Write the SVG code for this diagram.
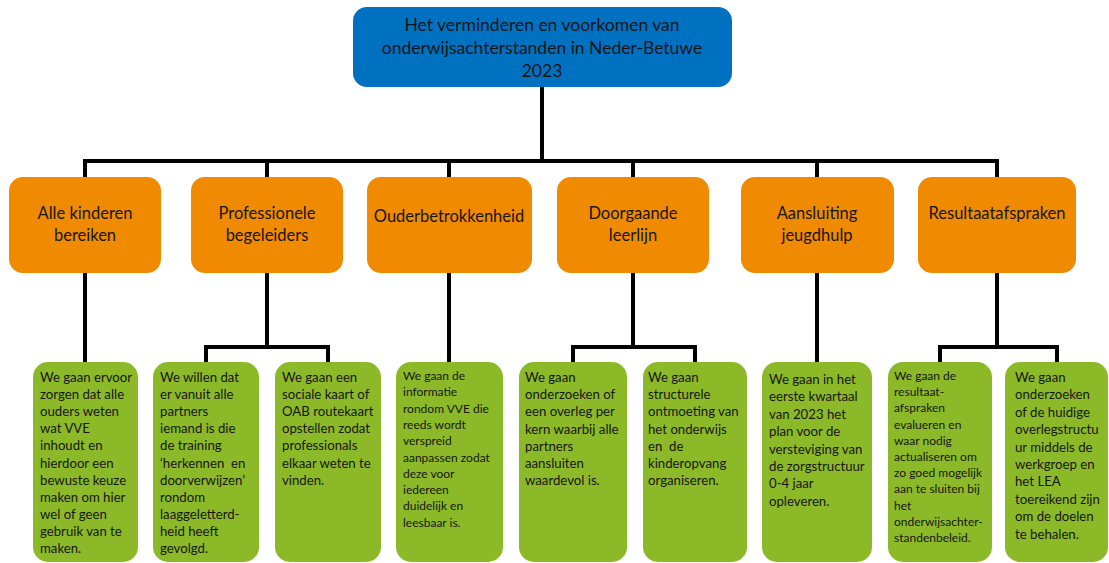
<svg xmlns="http://www.w3.org/2000/svg" width="1109" height="563" viewBox="0 0 1109 563">
<style>
text{font-family:Lato,"Liberation Sans",sans-serif;fill:#161616}
.root{fill:#0070C0}
.cat{fill:#F08A00}
.leaf{fill:#8CB927}
.t1{font-size:17.5px;text-anchor:middle}
.t2{font-size:16.5px;text-anchor:middle}
.t3{font-size:13.2px}
.t4{font-size:12px}
.conn{fill:none;stroke:#000;stroke-width:4;stroke-linecap:square;stroke-linejoin:miter}
</style>
<rect width="1109" height="563" fill="#fff"/>
<g id="connectors">
<path class="conn" d="M542 87V161M85 161H997M85 161V176M267 161V176M449 161V176M633 161V176M817 161V176M997 161V176"/>
<path class="conn" d="M85 274V361M449 274V361M817 274V361M267 274V347M206 347H328M206 347V361M328 347V361M633 274V347M573 347H695M573 347V361M695 347V361M997 274V347M940 347H1057M940 347V361M1057 347V361"/>
</g>
<g id="root">
<rect class="root" x="353" y="7" width="379" height="80" rx="14"/>
<text class="t1"><tspan x="542" y="31">Het verminderen en voorkomen van</tspan><tspan x="542" y="54">onderwijsachterstanden in Neder-Betuwe</tspan><tspan x="542" y="77">2023</tspan></text>
</g>
<g id="n1">
<rect class="cat" x="9" y="177" width="152" height="96" rx="14"/>
<text class="t2"><tspan x="85" y="219">Alle kinderen</tspan><tspan x="85" y="241">bereiken</tspan></text>
</g>
<g id="n2">
<rect class="cat" x="191" y="177" width="152" height="96" rx="14"/>
<text class="t2"><tspan x="267" y="219">Professionele</tspan><tspan x="267" y="241">begeleiders</tspan></text>
</g>
<g id="n3">
<rect class="cat" x="367" y="177" width="165" height="96" rx="14"/>
<text class="t2" x="449" y="222">Ouderbetrokkenheid</text>
</g>
<g id="n4">
<rect class="cat" x="557" y="177" width="152" height="96" rx="14"/>
<text class="t2"><tspan x="633" y="219">Doorgaande</tspan><tspan x="633" y="241">leerlijn</tspan></text>
</g>
<g id="n5">
<rect class="cat" x="741" y="177" width="153" height="96" rx="14"/>
<text class="t2"><tspan x="817" y="219">Aansluiting</tspan><tspan x="817" y="241">jeugdhulp</tspan></text>
</g>
<g id="n6">
<rect class="cat" x="918" y="177" width="158" height="96" rx="14"/>
<text class="t2" x="997" y="219">Resultaatafspraken</text>
</g>
<g id="g1">
<rect class="leaf" x="33" y="362" width="105" height="200" rx="15"/>
<text class="t3"><tspan x="40" y="382">We gaan ervoor</tspan><tspan x="40" dy="17.1">zorgen dat alle</tspan><tspan x="40" dy="17.1">ouders weten</tspan><tspan x="40" dy="17.1">wat VVE</tspan><tspan x="40" dy="17.1">inhoudt en</tspan><tspan x="40" dy="17.1">hierdoor een</tspan><tspan x="40" dy="17.1">bewuste keuze</tspan><tspan x="40" dy="17.1">maken om hier</tspan><tspan x="40" dy="17.1">wel of geen</tspan><tspan x="40" dy="17.1">gebruik van te</tspan><tspan x="40" dy="17.1">maken.</tspan></text>
</g>
<g id="g2">
<rect class="leaf" x="153" y="362" width="106" height="200" rx="15"/>
<text class="t3" xml:space="preserve"><tspan x="160" y="382">We willen dat</tspan><tspan x="160" dy="17.1">er vanuit alle</tspan><tspan x="160" dy="17.1">partners</tspan><tspan x="160" dy="17.1">iemand is die</tspan><tspan x="160" dy="17.1">de training</tspan><tspan x="160" dy="17.1">‘herkennen  en</tspan><tspan x="160" dy="17.1">doorverwijzen’</tspan><tspan x="160" dy="17.1">rondom</tspan><tspan x="160" dy="17.1">laaggeletterd-</tspan><tspan x="160" dy="17.1">heid heeft</tspan><tspan x="160" dy="17.1">gevolgd.</tspan></text>
</g>
<g id="g3">
<rect class="leaf" x="275" y="362" width="106" height="200" rx="15"/>
<text class="t3"><tspan x="282" y="382">We gaan een</tspan><tspan x="282" dy="17.1">sociale kaart of</tspan><tspan x="282" dy="17.1">OAB routekaart</tspan><tspan x="282" dy="17.1">opstellen zodat</tspan><tspan x="282" dy="17.1">professionals</tspan><tspan x="282" dy="17.1">elkaar weten te</tspan><tspan x="282" dy="17.1">vinden.</tspan></text>
</g>
<g id="g4">
<rect class="leaf" x="396" y="362" width="107" height="200" rx="15"/>
<text class="t4"><tspan x="403" y="380">We gaan de</tspan><tspan x="403" dy="16.3">informatie</tspan><tspan x="403" dy="16.3">rondom VVE die</tspan><tspan x="403" dy="16.3">reeds wordt</tspan><tspan x="403" dy="16.3">verspreid</tspan><tspan x="403" dy="16.3">aanpassen zodat</tspan><tspan x="403" dy="16.3">deze voor</tspan><tspan x="403" dy="16.3">iedereen</tspan><tspan x="403" dy="16.3">duidelijk en</tspan><tspan x="403" dy="16.3">leesbaar is.</tspan></text>
</g>
<g id="g5">
<rect class="leaf" x="519" y="362" width="108" height="200" rx="15"/>
<text class="t3"><tspan x="525" y="382">We gaan</tspan><tspan x="525" dy="17.2">onderzoeken of</tspan><tspan x="525" dy="17.2">een overleg per</tspan><tspan x="525" dy="17.2">kern waarbij alle</tspan><tspan x="525" dy="17.2">partners</tspan><tspan x="525" dy="17.2">aansluiten</tspan><tspan x="525" dy="17.2">waardevol is.</tspan></text>
</g>
<g id="g6">
<rect class="leaf" x="643" y="362" width="104" height="200" rx="15"/>
<text class="t3" xml:space="preserve"><tspan x="648" y="382">We gaan</tspan><tspan x="648" dy="17.2">structurele</tspan><tspan x="648" dy="17.2">ontmoeting van</tspan><tspan x="648" dy="17.2">het onderwijs</tspan><tspan x="648" dy="17.2">en  de</tspan><tspan x="648" dy="17.2">kinderopvang</tspan><tspan x="648" dy="17.2">organiseren.</tspan></text>
</g>
<g id="g7">
<rect class="leaf" x="762" y="362" width="110" height="200" rx="15"/>
<text class="t3"><tspan x="769" y="384">We gaan in het</tspan><tspan x="769" dy="17.4">eerste kwartaal</tspan><tspan x="769" dy="17.4">van 2023 het</tspan><tspan x="769" dy="17.4">plan voor de</tspan><tspan x="769" dy="17.4">versteviging van</tspan><tspan x="769" dy="17.4">de zorgstructuur</tspan><tspan x="769" dy="17.4">0-4 jaar</tspan><tspan x="769" dy="17.4">opleveren.</tspan></text>
</g>
<g id="g8">
<rect class="leaf" x="888" y="362" width="104" height="200" rx="15"/>
<text class="t4"><tspan x="894" y="380">We gaan de</tspan><tspan x="894" dy="16.2">resultaat-</tspan><tspan x="894" dy="16.2">afspraken</tspan><tspan x="894" dy="16.2">evalueren en</tspan><tspan x="894" dy="16.2">waar nodig</tspan><tspan x="894" dy="16.2">actualiseren om</tspan><tspan x="894" dy="16.2">zo goed mogelijk</tspan><tspan x="894" dy="16.2">aan te sluiten bij</tspan><tspan x="894" dy="16.2">het</tspan><tspan x="894" dy="16.2">onderwijsachter-</tspan><tspan x="894" dy="16.2">standenbeleid.</tspan></text>
</g>
<g id="g9">
<rect class="leaf" x="1005" y="362" width="103" height="200" rx="15"/>
<text class="t3"><tspan x="1015" y="382">We gaan</tspan><tspan x="1015" dy="17.4">onderzoeken</tspan><tspan x="1015" dy="17.4">of de huidige</tspan><tspan x="1015" dy="17.4">overlegstructu</tspan><tspan x="1015" dy="17.4">ur middels de</tspan><tspan x="1015" dy="17.4">werkgroep en</tspan><tspan x="1015" dy="17.4">het LEA</tspan><tspan x="1015" dy="17.4">toereikend zijn</tspan><tspan x="1015" dy="17.4">om de doelen</tspan><tspan x="1015" dy="17.4">te behalen.</tspan></text>
</g>
</svg>
